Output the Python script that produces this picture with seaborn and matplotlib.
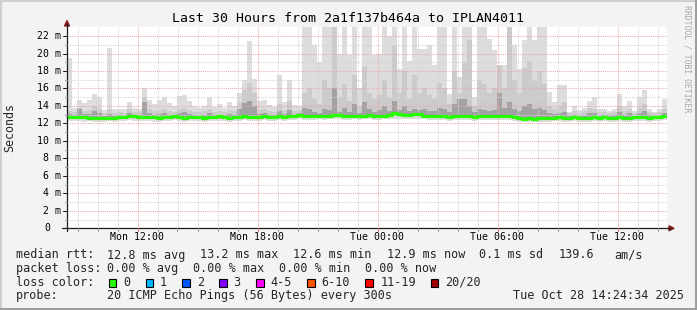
import numpy as np
import pandas as pd
import matplotlib
matplotlib.use("Agg")
import matplotlib.pyplot as plt
import seaborn as sns
from matplotlib.patches import Rectangle, Polygon
from matplotlib.lines import Line2D

sns.set_style("white")
plt.rcParams['font.family'] = ['DejaVu Sans Mono', 'DejaVu Sans']

# ---------------- data ----------------
title = "Last 30 Hours from 2a1f137b464a to IPLAN4011"
x_tick_hours = [12, 18, 24, 30, 36]
x_tick_labels = ["Mon 12:00", "Mon 18:00", "Tue 00:00", "Tue 06:00", "Tue 12:00"]
y_tick_ms = [0, 2, 4, 6, 8, 10, 12, 14, 16, 18, 20, 22]
y_tick_labels = ["0", "2 m", "4 m", "6 m", "8 m", "10 m", "12 m", "14 m",
                 "16 m", "18 m", "20 m", "22 m"]
start_hour = 8.475      # Mon 08:28
step_hours = 0.25       # 15 min bins

rtt_max = [
    19.5, 13.8, 14.7, 14.3, 14.7, 15.4, 15.0, 13.5, 20.6, 13.6,
    13.7, 13.6, 14.4, 13.8, 13.7, 16.0, 14.7, 14.2, 14.7, 15.0,
    14.3, 14.0, 15.1, 15.2, 14.6, 14.0, 13.8, 14.0, 15.0, 13.9,
    14.2, 13.8, 14.4, 14.0, 15.5, 17.0, 21.4, 17.1, 14.6, 14.7,
    14.1, 13.9, 17.5, 14.4, 17.0, 14.1, 14.0, 25.0, 24.0, 21.0,
    19.0, 25.0, 25.0, 25.0, 20.0, 25.0, 19.8, 25.0, 16.0, 25.0,
    25.0, 19.8, 20.0, 25.0, 22.0, 25.0, 18.2, 25.0, 19.2, 25.0,
    20.5, 20.5, 21.0, 18.7, 25.0, 25.0, 15.4, 25.0, 17.3, 25.0,
    25.0, 15.0, 25.0, 25.0, 21.7, 20.4, 18.7, 18.7, 25.0, 21.0,
    18.2, 21.5, 25.0, 21.5, 25.0, 25.0, 15.6, 14.4, 16.4, 16.4,
    13.3, 14.0, 13.5, 13.8, 14.6, 15.0, 13.6, 13.6, 13.4, 13.6,
    15.4, 14.0, 14.6, 13.4, 15.0, 15.8, 13.6, 13.3, 13.6, 14.8,
]
rtt_upper = [
    13.4, 13.3, 13.8, 13.4, 13.5, 14.0, 13.6, 13.2, 13.6, 13.2,
    13.3, 13.2, 13.6, 13.3, 13.3, 15.0, 13.6, 13.4, 13.5, 13.6,
    13.4, 13.3, 13.7, 13.8, 13.5, 13.3, 13.3, 13.4, 13.6, 13.3,
    13.4, 13.3, 13.5, 13.4, 14.5, 15.8, 16.6, 15.5, 13.5, 13.6,
    13.4, 13.3, 14.2, 13.5, 14.6, 13.4, 13.5, 15.5, 16.0, 14.8,
    14.2, 17.0, 16.0, 25.0, 15.0, 16.5, 14.6, 17.5, 14.0, 18.5,
    15.5, 14.8, 15.2, 17.0, 15.0, 21.0, 15.5, 18.0, 14.8, 17.5,
    15.5, 16.0, 15.2, 14.8, 16.6, 16.0, 14.2, 18.0, 15.5, 19.0,
    21.5, 14.0, 17.0, 16.5, 15.5, 16.0, 18.7, 16.0, 25.0, 17.0,
    15.5, 18.4, 19.2, 17.0, 18.0, 16.5, 14.0, 13.6, 14.0, 14.5,
    13.2, 13.4, 13.2, 13.4, 13.8, 13.7, 13.3, 13.3, 13.2, 13.3,
    14.0, 13.4, 13.6, 13.2, 13.8, 14.2, 13.3, 13.2, 13.3, 13.6,
]
rtt_dark = [
    13.1, 13.0, 13.6, 13.1, 13.1, 13.4, 13.2, 12.9, 13.1, 12.9,
    13.0, 12.9, 13.2, 13.0, 13.0, 14.5, 13.2, 13.0, 13.1, 13.2,
    13.0, 13.0, 13.2, 13.3, 13.1, 13.0, 12.9, 13.0, 13.2, 13.0,
    13.0, 13.0, 13.1, 13.0, 13.6, 14.3, 14.6, 14.0, 13.1, 13.2,
    13.0, 13.0, 13.4, 13.1, 13.5, 13.0, 13.2, 13.8, 13.6, 13.3,
    13.2, 13.6, 13.5, 16.0, 13.3, 13.8, 13.3, 14.2, 13.2, 14.5,
    13.6, 13.3, 13.5, 14.0, 13.4, 14.6, 13.5, 14.0, 13.4, 13.6,
    13.5, 13.6, 13.4, 13.4, 13.8, 13.6, 13.3, 14.2, 14.8, 14.8,
    14.0, 13.3, 13.6, 13.5, 13.4, 13.5, 15.5, 13.8, 14.5, 13.6,
    13.4, 14.0, 14.2, 13.6, 13.8, 13.5, 13.2, 13.1, 13.2, 13.3,
    12.9, 13.0, 12.9, 13.0, 13.2, 13.2, 12.9, 13.0, 12.9, 13.0,
    13.3, 13.0, 13.2, 12.9, 13.2, 13.4, 13.0, 12.9, 13.0, 13.2,
]
rtt_median = [
    12.75, 12.7, 12.7, 12.75, 12.65, 12.6, 12.6, 12.6, 12.65, 12.65,
    12.7, 12.75, 12.9, 12.8, 12.7, 12.75, 12.7, 12.7, 12.65, 12.7,
    12.75, 12.8, 12.7, 12.65, 12.7, 12.75, 12.7, 12.65, 12.7, 12.75,
    12.8, 12.7, 12.65, 12.7, 12.75, 12.8, 12.7, 12.7, 12.75, 12.8,
    12.7, 12.75, 12.8, 12.75, 12.85, 12.9, 12.95, 12.85, 12.8, 12.85,
    12.9, 12.85, 12.9, 12.95, 13.0, 12.9, 12.85, 12.9, 12.85, 12.9,
    12.95, 12.9, 12.85, 12.9, 12.95, 13.2, 13.1, 13.0, 12.95, 13.1,
    13.05, 12.9, 12.85, 12.8, 12.85, 12.8, 12.75, 12.8, 12.85, 12.8,
    12.8, 12.75, 12.8, 12.85, 12.8, 12.8, 12.9, 12.85, 12.8, 12.75,
    12.6, 12.55, 12.6, 12.55, 12.6, 12.6, 12.6, 12.65, 12.7, 12.65,
    12.65, 12.7, 12.65, 12.6, 12.65, 12.7, 12.65, 12.7, 12.65, 12.6,
    12.7, 12.65, 12.6, 12.7, 12.75, 12.7, 12.65, 12.7, 12.75, 12.8,
]
rtt_low = [
    12.5, 12.45, 12.5, 12.45, 12.45, 12.4, 12.4, 12.4, 12.45, 12.45,
    12.5, 12.55, 12.6, 12.55, 12.5, 12.5, 12.5, 12.45, 12.45, 12.5,
    12.5, 12.55, 12.5, 12.45, 12.5, 12.55, 12.5, 12.45, 12.5, 12.55,
    12.55, 12.5, 12.45, 12.5, 12.55, 12.6, 12.5, 12.5, 12.55, 12.6,
    12.5, 12.55, 12.6, 12.55, 12.65, 12.65, 12.7, 12.65, 12.6, 12.65,
    12.7, 12.65, 12.7, 12.7, 12.75, 12.65, 12.65, 12.7, 12.65, 12.7,
    12.7, 12.65, 12.65, 12.7, 12.7, 12.85, 12.8, 12.75, 12.7, 12.8,
    12.75, 12.7, 12.65, 12.6, 12.65, 12.6, 12.55, 12.6, 12.65, 12.6,
    12.6, 12.55, 12.6, 12.65, 12.6, 12.6, 12.65, 12.65, 12.6, 12.55,
    12.4, 12.35, 12.4, 12.35, 12.4, 12.4, 12.4, 12.45, 12.5, 12.45,
    12.45, 12.5, 12.45, 12.4, 12.45, 12.5, 12.45, 12.5, 12.45, 12.4,
    12.5, 12.45, 12.4, 12.5, 12.55, 12.5, 12.45, 12.5, 12.55, 12.6,
]
rtt_min = [
    12.3, 12.25, 12.3, 12.2, 12.25, 12.2, 12.15, 12.2, 12.25, 12.2,
    12.3, 12.3, 12.35, 12.3, 12.25, 12.3, 12.25, 12.2, 12.2, 12.25,
    12.3, 12.35, 12.25, 12.2, 12.25, 12.3, 12.25, 12.2, 12.25, 12.3,
    12.3, 12.25, 12.2, 12.25, 12.3, 12.35, 12.3, 12.25, 12.3, 12.35,
    12.3, 12.3, 12.35, 12.3, 12.4, 12.4, 12.45, 12.4, 12.35, 12.4,
    12.45, 12.4, 12.45, 12.45, 12.5, 12.4, 12.4, 12.45, 12.4, 12.45,
    12.45, 12.4, 12.4, 12.45, 12.45, 12.55, 12.5, 12.5, 12.45, 12.5,
    12.5, 12.45, 12.4, 12.35, 12.4, 12.35, 12.3, 12.35, 12.4, 12.35,
    12.35, 12.3, 12.35, 12.4, 12.35, 12.35, 12.4, 12.4, 12.35, 12.3,
    12.2, 12.15, 12.2, 12.15, 12.2, 12.2, 12.2, 12.25, 12.25, 12.2,
    12.2, 12.25, 12.2, 12.15, 12.2, 12.25, 12.2, 12.25, 12.2, 12.15,
    12.25, 12.2, 12.15, 12.25, 12.3, 12.25, 12.2, 12.25, 12.3, 12.35,
]

legend_rows = [
    ("median rtt:", [("12.8 ms avg", 107.3), ("13.2 ms max", 200.0), ("12.6 ms min", 293.3),
                     ("12.9 ms now", 386.7), ("0.1 ms sd", 479.3), ("139.6", 558.3), ("am/s", 614.0)]),
    ("packet loss:", [("0.00 % avg", 107.3), ("0.00 % max", 193.3), ("0.00 % min", 279.3),
                      ("0.00 % now", 365.0)]),
]
loss_labels = ["0", "1", "2", "3", "4-5", "6-10", "11-19", "20/20"]
loss_colors = ["#26ff00", "#00b8ff", "#0059ff", "#7e00ff", "#ff00ff", "#ff5500", "#ff0000", "#a00000"]
probe_text = "20 ICMP Echo Pings (56 Bytes) every 300s"
stamp_text = "Tue Oct 28 14:24:34 2025"

# ---------------- figure ----------------
W, H = 697, 310
BG = "#f3f3f3"
fig = plt.figure(figsize=(W / 100, H / 100), dpi=100, facecolor=BG)

def fx(x):
    return x / W

def fy(y):
    return 1 - y / H

X0, X1, Y0, Y1 = 67, 667, 228.3, 27.3
ax = fig.add_axes([fx(X0), fy(Y0), (X1 - X0) / W, (Y0 - Y1) / H])
ax.set_facecolor("white")
for s in ax.spines.values():
    s.set_visible(False)

n = len(rtt_median)
edges = start_hour + step_hours * np.arange(n + 1)

def ext(a):
    return np.append(np.asarray(a, float), a[-1])

df = pd.DataFrame({"hour": edges, "median": ext(rtt_median)})

ax.fill_between(edges, ext(rtt_min), ext(rtt_max), step="post", color="#dddddd", lw=0, zorder=1)
ax.fill_between(edges, ext(rtt_low), ext(rtt_upper), step="post", color="#cbcbcb", lw=0, zorder=1.1)
ax.fill_between(edges, ext(rtt_median), ext(rtt_dark), step="post", color="#a2a2a2", lw=0, zorder=1.2)

# grid (rrdtool draws it over the smoke)
dot = (0, (1, 1))
for h in range(9, 39):
    major = h in x_tick_hours
    ax.axvline(h, color="#eeaaaa" if major else "#d6d6d6", lw=0.75, ls=dot, zorder=2)
for v in range(1, 23):
    major = v % 2 == 0
    ax.axhline(v, color="#eeaaaa" if major else "#d6d6d6", lw=0.75, ls=dot, zorder=2)

sns.lineplot(data=df, x="hour", y="median", ax=ax, color="#26ff00", lw=2.3,
             drawstyle="steps-post", estimator=None, zorder=3)

ax.set_xlim(start_hour, start_hour + 30)
ax.set_ylim(0, 23.0)
ax.set_xlabel("")
ax.set_ylabel("")
ax.set_xticks(x_tick_hours)
ax.set_xticklabels([])
ax.set_yticks(y_tick_ms)
ax.set_yticklabels([])
ax.tick_params(axis="both", which="both", length=0)

# axes lines and arrows
axis_col = "#1e1e1e"
arrow_col = "#7f1f1f"
fig.add_artist(Line2D([fx(62), fx(670)], [fy(228.3), fy(228.3)], color=axis_col, lw=0.9))
fig.add_artist(Line2D([fx(67), fx(67)], [fy(231), fy(24)], color=axis_col, lw=0.9))
fig.add_artist(Polygon([(fx(669), fy(225.8)), (fx(669), fy(230.8)), (fx(674), fy(228.3))],
                       closed=True, color=arrow_col, transform=fig.transFigure))
fig.add_artist(Polygon([(fx(64.5), fy(26)), (fx(69.5), fy(26)), (fx(67), fy(20.5))],
                       closed=True, color=arrow_col, transform=fig.transFigure))

px_per_ms = (Y0 - Y1) / 23.0
px_per_h = (X1 - X0) / 30.0
# y ticks and labels
for v, lab in zip(y_tick_ms, y_tick_labels):
    yp = Y0 - v * px_per_ms
    fig.add_artist(Line2D([fx(63), fx(67)], [fy(yp), fy(yp)], color=axis_col, lw=0.75))
    xr = 50.5 if lab == "0" else 60.5
    fig.text(fx(xr), fy(yp), lab, ha="right", va="center", fontsize=7.1, color="black")
for v in range(1, 23, 2):
    yp = Y0 - v * px_per_ms
    fig.add_artist(Line2D([fx(65), fx(67)], [fy(yp), fy(yp)], color="#9a9a9a", lw=0.75))
# x ticks and labels
for h in range(9, 39):
    xp = X0 + (h - start_hour) * px_per_h
    major = h in x_tick_hours
    fig.add_artist(Line2D([fx(xp), fx(xp)], [fy(228.3), fy(231)],
                          color="#d77070" if major else "#9a9a9a", lw=0.75))
for h, lab in zip(x_tick_hours, x_tick_labels):
    xp = X0 + (h - start_hour) * px_per_h
    fig.text(fx(xp), fy(237.5), lab, ha="center", va="center", fontsize=7.1, color="black")

# title, axis label, watermark
fig.text(fx(347.5), fy(19), title, ha="center", va="center", fontsize=9.5, color="black")
fig.text(fx(10), fy(127.5), "Seconds", ha="center", va="center", rotation=90, fontsize=8.4)
fig.text(fx(687.5), fy(59), "RRDTOOL / TOBI OETIKER", ha="center", va="center",
         rotation=270, fontsize=5.9, color="#a8a8a8")

# legend
LFS = 8.45
row_y = [255.0, 268.3, 282.3, 295.7]
for (head, items), yy in zip(legend_rows, row_y[:2]):
    fig.text(fx(16), fy(yy), head, ha="left", va="center", fontsize=LFS)
    for txt, xx in items:
        fig.text(fx(xx), fy(yy), txt, ha="left", va="center", fontsize=LFS)

fig.text(fx(16), fy(row_y[2]), "loss color:", ha="left", va="center", fontsize=LFS)
box_x = [108.7, 145.7, 182.3, 219.0, 256.0, 307.3, 365.0, 430.7]
lab_x = [123.3, 160.0, 196.7, 233.3, 270.7, 321.7, 380.7, 445.3]
for lab, col, bx, lx in zip(loss_labels, loss_colors, box_x, lab_x):
    fig.add_artist(Rectangle((fx(bx), fy(286.5)), 7.5 / W, 8 / H, facecolor=col,
                             edgecolor="black", lw=0.8, transform=fig.transFigure))
    fig.text(fx(lx), fy(row_y[2]), lab, ha="left", va="center", fontsize=LFS)

fig.text(fx(16), fy(row_y[3]), "probe:", ha="left", va="center", fontsize=LFS)
fig.text(fx(107.3), fy(row_y[3]), probe_text, ha="left", va="center", fontsize=LFS)
fig.text(fx(513.3), fy(row_y[3]), stamp_text, ha="left", va="center", fontsize=LFS)

# 3d frame
fig.add_artist(Line2D([0, 1], [fy(1), fy(1)], color="#cfcfcf", lw=1.5))
fig.add_artist(Line2D([fx(1), fx(1)], [0, 1], color="#cfcfcf", lw=1.5))
fig.add_artist(Line2D([0, 1], [fy(309), fy(309)], color="#9e9e9e", lw=1.5))
fig.add_artist(Line2D([fx(696), fx(696)], [0, 1], color="#9e9e9e", lw=1.5))

fig.savefig("out.png", dpi=100, facecolor=BG)
